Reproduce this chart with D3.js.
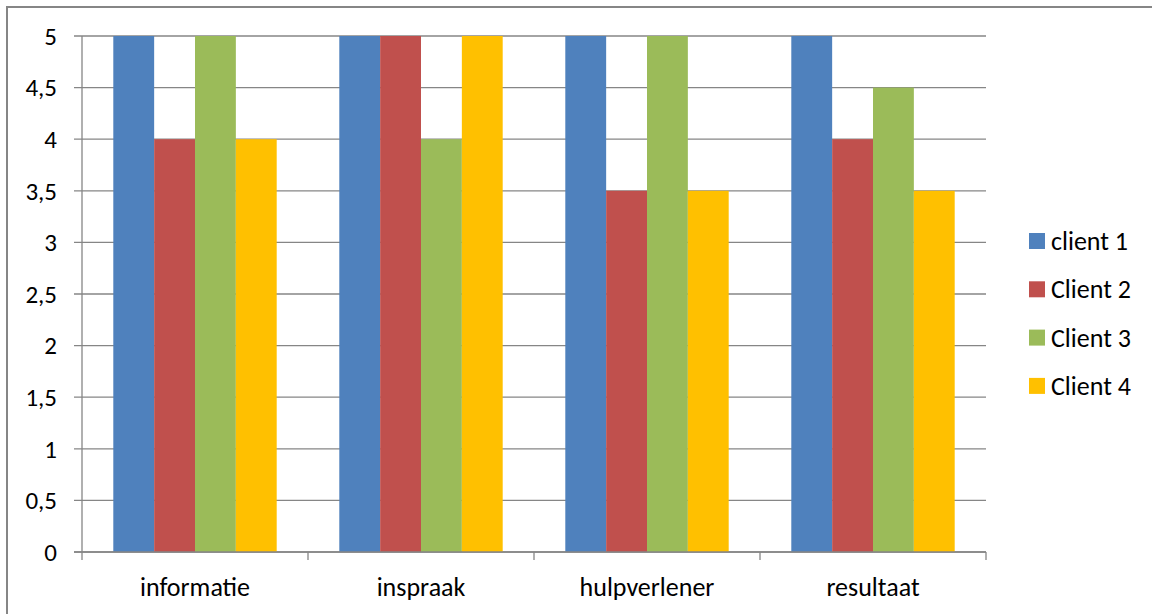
<!DOCTYPE html>
<html>
<head>
<meta charset="utf-8">
<script src="https://cdn.jsdelivr.net/npm/d3@7"></script>
<style>
  body { margin: 0; background: #fff; }
  #chart { width: 1152px; height: 614px; }
  text { font-family: Carlito, Calibri, "Open Sans", "Liberation Sans", sans-serif; fill: #000; }
</style>
</head>
<body>
<div id="chart"></div>
<script>
const categories = ["informatie", "inspraak", "hulpverlener", "resultaat"];
const seriesNames = ["client 1", "Client 2", "Client 3", "Client 4"];
const seriesColors = ["#4f81bd", "#c0504d", "#9bbb59", "#ffc000"];
const values = [
  [5, 5, 5, 5],       // client 1
  [4, 5, 3.5, 4],     // Client 2
  [5, 4, 5, 4.5],     // Client 3
  [4, 5, 3.5, 3.5],   // Client 4
];
const yTicks = [0, 0.5, 1, 1.5, 2, 2.5, 3, 3.5, 4, 4.5, 5];

const width = 1152, height = 614;
const plot = { left: 82, right: 986, top: 36, bottom: 552 };

const svg = d3.select("#chart").append("svg")
  .attr("width", width).attr("height", height);

// outer chart border (only top and left show in frame)
svg.append("rect")
  .attr("x", 7).attr("y", 7)
  .attr("width", width + 20).attr("height", height + 20)
  .attr("fill", "none").attr("stroke", "#868686").attr("stroke-width", 2);

const x0 = d3.scaleBand().domain(categories).range([plot.left, plot.right]).paddingInner(0.277).paddingOuter(0.1385);
const x1 = d3.scaleBand().domain(seriesNames).range([0, x0.bandwidth()]);
const xCat = d3.scaleBand().domain(categories).range([plot.left, plot.right]);
const y = d3.scaleLinear().domain([0, 5]).range([plot.bottom, plot.top]);

// gridlines
svg.append("g").selectAll("line").data(yTicks).enter().append("line")
  .attr("x1", plot.left - 8).attr("x2", plot.right)
  .attr("y1", d => y(d)).attr("y2", d => y(d))
  .attr("stroke", "#868686").attr("stroke-width", 1.3);

// y labels
svg.append("g").selectAll("text").data(yTicks).enter().append("text")
  .attr("x", 57).attr("y", d => y(d)).attr("dy", "0.35em")
  .attr("text-anchor", "end").attr("font-size", 25)
  .text(d => d3.format("")(d).replace(".", ","));

// bars
const groups = svg.append("g").selectAll("g").data(categories).enter().append("g")
  .attr("transform", d => `translate(${x0(d)},0)`);
groups.selectAll("rect")
  .data((c, ci) => seriesNames.map((s, si) => ({ s, v: values[si][ci], color: seriesColors[si] })))
  .enter().append("rect")
  .attr("x", d => x1(d.s)).attr("width", x1.bandwidth())
  .attr("y", d => y(d.v)).attr("height", d => y(0) - y(d.v))
  .attr("fill", d => d.color);

// axes lines
svg.append("line").attr("x1", plot.left).attr("x2", plot.left)
  .attr("y1", plot.top).attr("y2", plot.bottom + 8)
  .attr("stroke", "#868686").attr("stroke-width", 1.3);
svg.append("line").attr("x1", plot.left - 8).attr("x2", plot.right)
  .attr("y1", plot.bottom).attr("y2", plot.bottom)
  .attr("stroke", "#868686").attr("stroke-width", 1.3);
// category ticks
const catEdges = categories.map(c => xCat(c) + xCat.bandwidth());
svg.append("g").selectAll("line").data(catEdges).enter().append("line")
  .attr("x1", d => d).attr("x2", d => d)
  .attr("y1", plot.bottom).attr("y2", plot.bottom + 8)
  .attr("stroke", "#868686").attr("stroke-width", 1.3);

// category labels
svg.append("g").selectAll("text").data(categories).enter().append("text")
  .attr("x", d => xCat(d) + xCat.bandwidth() / 2).attr("y", 596)
  .attr("text-anchor", "middle").attr("font-size", 26)
  .text(d => d);

// legend
const legend = svg.append("g").selectAll("g").data(seriesNames).enter().append("g")
  .attr("transform", (d, i) => `translate(1029,${241 + i * 48.3})`);
legend.append("rect").attr("x", 0).attr("y", -8).attr("width", 16).attr("height", 16)
  .attr("fill", (d, i) => seriesColors[i]);
legend.append("text").attr("x", 22).attr("y", 0).attr("dy", "0.35em")
  .attr("font-size", 26).text(d => d);
</script>
</body>
</html>
